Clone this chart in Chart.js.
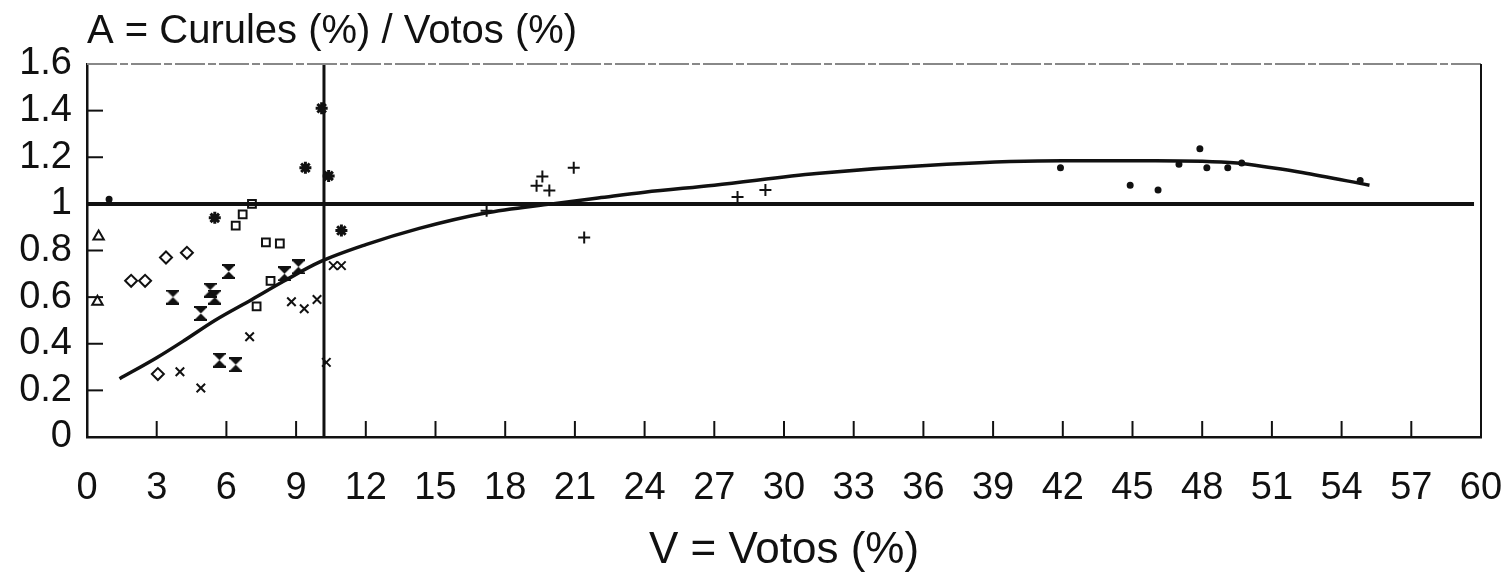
<!DOCTYPE html>
<html>
<head>
<meta charset="utf-8">
<script src="https://cdn.jsdelivr.net/npm/chart.js@4.4.1/dist/chart.umd.min.js"></script>
<style>
  html, body { margin: 0; padding: 0; background: #fff; }
</style>
</head>
<body>
<canvas id="chart" width="1508" height="579"></canvas>
<script>
// Tick labels
const xTickLabels = ['0','3','6','9','12','15','18','21','24','27','30','33','36','39','42','45','48','51','54','57','60'];
const yTickLabels = ['0','0.2','0.4','0.6','0.8','1','1.2','1.4','1.6'];

// Groups of parties
const triangles = [{x:0.5,y:0.86},{x:0.45,y:0.58}];
const diamonds = [{x:1.9,y:0.67},{x:2.5,y:0.67},{x:3.4,y:0.77},{x:4.3,y:0.79},{x:3.05,y:0.27}];
const crosses = [{x:4.0,y:0.28},{x:4.9,y:0.21},{x:7.0,y:0.43},{x:8.8,y:0.58},{x:9.35,y:0.55},{x:9.9,y:0.59},{x:10.6,y:0.735},{x:10.95,y:0.735},{x:10.3,y:0.32}];
const hourglasses = [{x:6.1,y:0.71},{x:3.7,y:0.60},{x:5.3,y:0.63},{x:5.5,y:0.60},{x:4.9,y:0.53},{x:5.7,y:0.33},{x:6.4,y:0.31},{x:8.5,y:0.70},{x:9.1,y:0.73}];
const squares = [{x:7.7,y:0.835},{x:8.3,y:0.83},{x:7.9,y:0.67},{x:7.3,y:0.56},{x:6.4,y:0.907},{x:6.7,y:0.955},{x:7.1,y:1.0}];
const stars = [{x:5.5,y:0.94},{x:9.4,y:1.155},{x:10.1,y:1.41},{x:10.4,y:1.12},{x:10.95,y:0.886}];
const pluses = [{x:17.2,y:0.97},{x:19.35,y:1.078},{x:19.6,y:1.117},{x:19.9,y:1.057},{x:20.95,y:1.155},{x:21.4,y:0.856},{x:28.0,y:1.03},{x:29.2,y:1.06}];
const dots = [{x:0.95,y:1.02},{x:41.9,y:1.155},{x:44.9,y:1.08},{x:46.1,y:1.06},{x:47.9,y:1.236},{x:47.0,y:1.17},{x:48.2,y:1.155},{x:49.1,y:1.155},{x:49.7,y:1.175},{x:54.8,y:1.10}];

// Fitted curve, read point by point
const curveX = [1.4, 3, 4.2, 5.5, 7.1, 8.5, 10, 12, 14.3, 17.1, 20, 22, 24, 27, 31.4, 37, 42, 46, 49.5, 51, 52.3, 55.2];
const curveY = [0.25, 0.34, 0.415, 0.50, 0.59, 0.67, 0.75, 0.825, 0.895, 0.96, 1.0, 1.025, 1.05, 1.08, 1.13, 1.17, 1.185, 1.185, 1.175, 1.155, 1.135, 1.08];

// Reference lines
const unityLine = [{x:0,y:1},{x:59.7,y:1}];
const thresholdLine = [{x:10.2,y:0},{x:10.2,y:1.6}];

const curve = curveX.map((x, i) => ({x: x, y: curveY[i]}));

// hourglass marker
const hg = document.createElement('canvas');
hg.width = 13; hg.height = 15;
(function () {
    const c = hg.getContext('2d');
    c.fillStyle = '#111';
    c.fillRect(0, 0, 13, 2);
    c.fillRect(0, 13, 13, 2);
    c.beginPath();
    c.moveTo(1, 2); c.lineTo(12, 2); c.lineTo(6.5, 7.5); c.closePath(); c.fill();
    c.beginPath();
    c.moveTo(6.5, 7.5); c.lineTo(12, 13); c.lineTo(1, 13); c.closePath(); c.fill();
})();

// frame and inward tick marks
const frameTicks = {
    id: 'frameTicks',
    afterDraw(chart) {
        const {ctx, chartArea: a, scales: {x, y}} = chart;
        ctx.save();
        ctx.strokeStyle = '#888';
        ctx.lineWidth = 2;
        ctx.setLineDash([30, 3, 8, 3]);
        ctx.beginPath(); ctx.moveTo(a.left, a.top); ctx.lineTo(a.right, a.top); ctx.stroke();
        ctx.setLineDash([]);
        ctx.strokeStyle = '#111';
        ctx.beginPath(); ctx.moveTo(a.right, a.top); ctx.lineTo(a.right, a.bottom); ctx.stroke();
        ctx.lineWidth = 2;
        x.ticks.forEach(t => {
            if (t.value <= 0 || t.value >= 60) return;
            const px = x.getPixelForValue(t.value);
            ctx.beginPath(); ctx.moveTo(px, a.bottom); ctx.lineTo(px, a.bottom - 16); ctx.stroke();
        });
        y.ticks.forEach(t => {
            if (t.value <= 0 || t.value >= 1.6) return;
            const py = y.getPixelForValue(t.value);
            ctx.beginPath(); ctx.moveTo(a.left, py); ctx.lineTo(a.left + 16, py); ctx.stroke();
        });
        ctx.restore();
    }
};

const markerSet = (data, style, r, extra) => Object.assign({
    data: data,
    pointStyle: style,
    pointRadius: r,
    pointHoverRadius: r,
    borderColor: '#111',
    backgroundColor: 'rgba(0,0,0,0)',
    pointBorderWidth: 2,
    showLine: false,
    order: 1
}, extra || {});

const ctx = document.getElementById('chart').getContext('2d');
const chart = new Chart(ctx, {
    type: 'scatter',
    data: {
        datasets: [
            {data: unityLine, showLine: true, borderColor: '#111', borderWidth: 4, pointRadius: 0, order: 3},
            {data: thresholdLine, showLine: true, borderColor: '#111', borderWidth: 3, pointRadius: 0, order: 3},
            {data: curve, showLine: true, borderColor: '#111', borderWidth: 3.5, pointRadius: 0, tension: 0.4, cubicInterpolationMode: 'monotone', order: 2},
            markerSet(triangles, 'triangle', 6),
            markerSet(diamonds, 'rectRot', 6),
            markerSet(crosses, 'crossRot', 6),
            markerSet(hourglasses, hg, 7),
            markerSet(squares, 'rect', 5.5),
            markerSet(stars, 'star', 6, {pointBorderWidth: 3}),
            markerSet(pluses, 'cross', 6),
            markerSet(dots, 'circle', 2.5, {backgroundColor: '#111'})
        ]
    },
    options: {
        responsive: false,
        animation: false,
        layout: { padding: { left: 0, right: 27, top: 0, bottom: 0 } },
        plugins: {
            legend: { display: false },
            tooltip: { enabled: false },
            title: {
                display: true,
                text: 'A = Curules (%) / Votos (%)',
                align: 'start',
                fullSize: false,
                color: '#111',
                font: { family: 'Liberation Sans', size: 40, weight: 'normal' },
                padding: { top: 8, bottom: 8 }
            }
        },
        scales: {
            x: {
                type: 'linear',
                min: 0,
                max: 60,
                grid: { display: false, drawTicks: false, tickLength: 0 },
                border: { display: true, color: '#111', width: 2.5 },
                ticks: {
                    stepSize: 3,
                    color: '#111',
                    padding: 29,
                    maxRotation: 0,
                    autoSkip: false,
                    font: { family: 'Liberation Sans', size: 38 },
                    callback: v => xTickLabels[Math.round(v / 3)]
                },
                title: {
                    display: true,
                    text: 'V = Votos (%)',
                    color: '#111',
                    font: { family: 'Liberation Sans', size: 44 },
                    padding: { top: 4, bottom: 2 }
                },
                afterFit: s => { s.height = 142; s.paddingLeft = 0; s.paddingRight = 0; }
            },
            y: {
                min: 0,
                max: 1.6,
                grid: { display: false, drawTicks: false, tickLength: 0 },
                border: { display: true, color: '#111', width: 2.5 },
                ticks: {
                    stepSize: 0.2,
                    color: '#111',
                    padding: 15,
                    autoSkip: false,
                    font: { family: 'Liberation Sans', size: 38 },
                    callback: v => yTickLabels[Math.round(v * 5)]
                },
                afterFit: s => { s.width = 87; }
            }
        }
    },
    plugins: [frameTicks]
});
</script>
</body>
</html>
